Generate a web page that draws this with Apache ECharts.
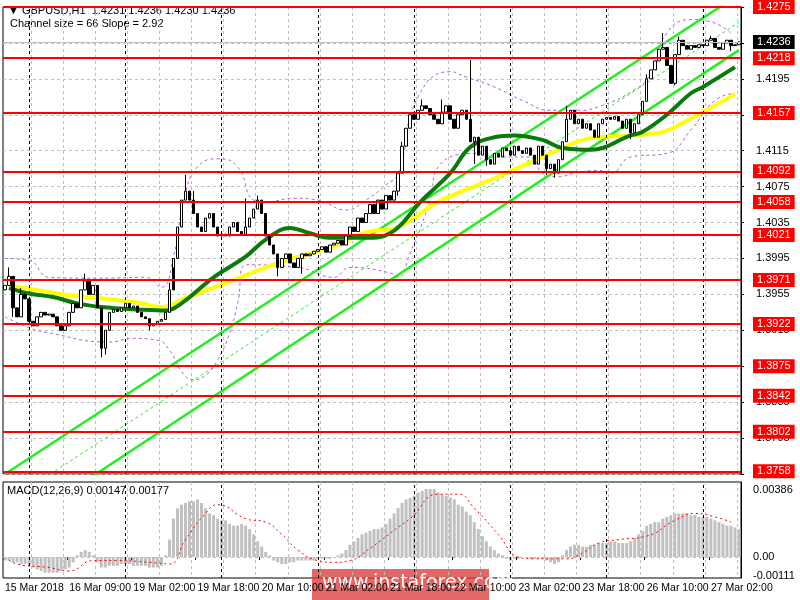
<!DOCTYPE html>
<html><head><meta charset="utf-8">
<script src="https://cdn.jsdelivr.net/npm/echarts@6/dist/echarts.min.js"></script>
<style>html,body{margin:0;padding:0;background:#fff}#c{width:800px;height:600px}</style>
</head><body><div id="c"></div>
<script>
// ---------- DATA ----------
const tickLabels = ['15 Mar 2018','16 Mar 09:00','19 Mar 02:00','19 Mar 18:00','20 Mar 10:00','21 Mar 02:00','21 Mar 18:00','22 Mar 10:00','23 Mar 02:00','23 Mar 18:00','26 Mar 10:00','27 Mar 02:00'];
const firstOpen = 1.3960;
const closes = [
 1.3965,1.3975,1.3940,1.3930,1.3955,1.3950,1.3925,1.3920,1.3930,1.3935,1.3932,1.3933,1.3930,1.3920,1.3915,
 1.3920,1.3935,1.3945,1.3940,1.3960,1.3970,1.3955,1.3965,1.3940,1.3895,1.3915,1.3935,
 1.3938,1.3936,1.3940,1.3945,1.3940,1.3942,1.3935,1.3930,1.3928,1.3920,1.3922,1.3925,1.3927,1.3935,
 1.3960,1.3995,1.4030,1.4060,1.4070,
 1.4060,1.4045,1.4030,1.4025,1.4040,1.4045,1.4030,1.4020,1.4022,1.4020,1.4030,1.4035,1.4025,1.4022,1.4030,1.4040,1.4050,1.4060,1.4045,1.4020,
 1.4010,1.4000,1.3985,1.3995,1.4000,1.3990,1.3985,1.3995,1.4000,1.3998,
 1.4000,1.4003,1.4005,1.4008,1.4002,1.4010,1.4012,1.4015,1.4010,1.4020,1.4030,1.4025,1.4040,1.4035,1.4045,
 1.4055,1.4045,1.4060,1.4050,1.4065,1.4060,1.4070,1.4090,1.4120,1.4140,
 1.4155,1.4150,1.4160,1.4165,1.4162,1.4155,1.4150,1.4145,1.4158,1.4165,1.4150,1.4140,1.4155,1.4160,1.4150,
 1.4125,1.4130,1.4110,1.4120,1.4105,
 1.4100,1.4112,1.4108,1.4118,1.4115,1.4110,1.4120,1.4115,1.4112,1.4118,1.4110,1.4100,1.4120,1.4110,1.4095,1.4100,1.4090,1.4105,
 1.4125,1.4150,1.4160,1.4145,1.4150,1.4140,1.4145,1.4138,
 1.4130,1.4145,1.4150,1.4152,1.4150,1.4153,1.4148,1.4140,1.4150,1.4135,1.4145,1.4155,
 1.4170,1.4195,1.4205,1.4215,1.4228,1.4230,1.4210,1.4190,1.4222,1.4238,
 1.4232,1.4228,1.4232,1.4230,1.4233,1.4232,1.4238,1.4240,1.4230,1.4228,1.4235,1.4238,1.4232,1.4233,1.4236];
// notable wick extremes [index, price]
const highs = [[1,1.3985],[4,1.3962],[20,1.3978],[41,1.3968],[45,1.4088],[47,1.4070],[60,1.4062],[63,1.4065],[99,1.4125],[104,1.4172],[109,1.4172],[116,1.4216],[140,1.4165],[160,1.4200],[164,1.4246],[168,1.4242],[176,1.4243]];
const lows  = [[2,1.3930],[24,1.3885],[25,1.3888],[36,1.3915],[42,1.3985],[68,1.3975],[74,1.3978],[98,1.4065],[117,1.4100],[120,1.4098],[135,1.4088],[137,1.4085],[156,1.4128],[167,1.4188],[181,1.4226]];
const macdHist = [
 -0.0002,-0.0002,-0.0003,-0.0003,-0.0004,-0.0004,-0.0005,-0.0006,-0.0007,-0.0008,
 -0.0009,-0.0009,-0.0009,-0.0009,-0.0008,-0.0007,-0.0006,-0.0003,
 0.0001,0.0003,0.0004,0.0003,0.0001,-0.0003,
 -0.0006,-0.0006,-0.0005,-0.0005,-0.0005,-0.0004,-0.0004,-0.0004,-0.0005,-0.0005,-0.0005,-0.0005,-0.0006,-0.0006,-0.0006,-0.0005,
 0.0001,0.0010,0.0022,0.0028,0.0030,0.0031,0.0032,0.0032,0.0033,0.0031,
 0.0028,0.0025,0.0024,0.0022,0.0021,0.0021,0.0019,0.0018,0.0018,0.0019,0.0018,0.0016,0.0013,
 0.0009,0.0006,0.0003,0.0001,-0.0002,-0.0003,-0.0004,-0.0004,-0.0003,-0.0003,-0.0002,-0.0002,
 -0.0002,-0.0002,-0.0002,-0.0001,-0.0001,-0.0001,-0.0001,0.0000,0.0001,0.0002,0.0004,0.0007,
 0.0009,0.0011,0.0013,0.0014,0.0015,0.0016,0.0016,0.0017,0.0019,0.0022,
 0.0025,0.0028,0.0031,0.0033,0.0034,0.0035,0.0037,0.0038,0.0039,0.0039,0.0039,
 0.0037,0.0036,0.0035,0.0034,0.0033,0.0030,0.0029,0.0026,0.0024,0.0020,
 0.0016,0.0012,0.0009,0.0006,0.0004,0.0002,0.0001,-0.0001,-0.0002,
 -0.0001,-0.0001,0.0000,0.0000,-0.0001,-0.0001,-0.0001,-0.0001,-0.0002,-0.0003,-0.0004,-0.0003,0.0001,0.0004,0.0006,0.0007,0.0007,
 0.0006,0.0006,0.0007,0.0007,0.0008,0.0008,0.0008,0.0009,0.0009,0.0008,0.0008,0.0008,0.0009,0.0011,0.0013,
 0.0015,0.0018,0.0019,0.0020,0.0020,0.0022,0.0023,0.0024,0.0025,0.0025,
 0.0025,0.0025,0.0024,0.0024,0.0023,0.0023,0.0023,0.0022,0.0021,0.0020,0.0019,0.0018,0.0018,0.0017,0.0016];
const macdSignal = [[0,0.0000],[3,-0.0004],[11,-0.0006],[16,-0.0008],[22,-0.0002],[28,-0.0002],[36,-0.0003],[41,-0.0004],[45,0.0010],[50,0.0025],[53,0.0030],[60,0.0022],[65,0.0020],[69,0.0013],[73,0.0004],[78,-0.0002],[82,-0.0003],[86,-0.0002],[91,0.0005],[98,0.0017],[101,0.0022],[108,0.0036],[113,0.0036],[117,0.0028],[123,0.0013],[128,0.0000],[132,-0.0001],[140,-0.0001],[143,0.0001],[148,0.0008],[153,0.0010],[160,0.0012],[167,0.0021],[172,0.0025],[177,0.0023],[181,0.0020]];
const maFast = [[1,1.3962],[6,1.3956],[12,1.3952],[18,1.3945],[24,1.3941],[34,1.3938],[40,1.3937],[44,1.3945],[52,1.3974],[60,1.3997],[65,1.4016],[71,1.4029],[76,1.4023],[81,1.4018],[90,1.4018],[96,1.4023],[104,1.4060],[111,1.4090],[116,1.4119],[122,1.4130],[127,1.4132],[134,1.4127],[139,1.4118],[146,1.4116],[156,1.4132],[159,1.4136],[165,1.4155],[171,1.4179],[174,1.4186],[182,1.4208]];
const maSlow = [[1,1.3965],[8,1.3960],[16,1.3954],[23,1.3951],[33,1.3946],[39,1.3941],[45,1.3951],[57,1.3971],[65,1.3985],[73,1.3997],[81,1.4007],[90,1.4024],[98,1.4030],[108,1.4058],[123,1.4086],[136,1.4112],[146,1.4129],[156,1.4132],[164,1.4136],[169,1.4146],[182,1.4178]];
const bandUpper = [[0,1.3995],[6,1.3993],[11,1.3974],[23,1.3973],[35,1.3974],[39,1.3963],[42,1.3997],[45,1.4068],[48,1.4097],[53,1.4106],[58,1.4097],[62,1.4060],[65,1.4058],[72,1.4062],[78,1.4060],[85,1.4049],[90,1.4060],[95,1.4077],[98,1.4090],[103,1.4175],[111,1.4203],[115,1.4197],[122,1.4186],[129,1.4171],[136,1.4160],[143,1.4160],[148,1.4164],[157,1.4183],[161,1.4201],[165,1.4246],[171,1.4261],[177,1.4257],[181,1.4246]];
const bandLower = [[0,1.3930],[6,1.3918],[10,1.3913],[26,1.3902],[32,1.3906],[38,1.3904],[41,1.3893],[44,1.3869],[47,1.3860],[50,1.3865],[53,1.3882],[56,1.3912],[58,1.3945],[60,1.3988],[73,1.3985],[82,1.3974],[86,1.3985],[96,1.3979],[98,1.3974],[101,1.4001],[106,1.4060],[108,1.4097],[118,1.4112],[121,1.4108],[131,1.4108],[134,1.4090],[138,1.4086],[142,1.4090],[148,1.4093],[151,1.4090],[156,1.4108],[165,1.4112],[171,1.4138],[177,1.4171],[182,1.4179]];
const channelUpper = [[0,1.3755],[183,1.4289]];
const channelLower = [[21,1.3750],[183,1.4227]];
const channelMid = [[10,1.3751],[183,1.4258]];
const levels = [1.4275,1.4218,1.4157,1.4092,1.4058,1.4021,1.3971,1.3922,1.3875,1.3842,1.3802,1.3758];
const lastPrice = 1.4236;
const macdLabels = [0.00386, 0.00, -0.00111];

// ---------- BUILD ----------
const N = closes.length;
const cats = closes.map((_, i) => String(i));
const hiMap = Object.fromEntries(highs), loMap = Object.fromEntries(lows);
const candles = closes.map((c, i) => {
  const o = i === 0 ? firstOpen : closes[i - 1];
  const h = hiMap[i] !== undefined ? hiMap[i] : Math.max(o, c);
  const l = loMap[i] !== undefined ? loMap[i] : Math.min(o, c);
  return [o, c, l, h];
});
function sparse(pairs){ const a = new Array(N).fill(null); pairs.forEach(([i,v]) => { if (i < N) a[i] = v; }); return a; }
const dayLines = cats.map((_, i) => i).filter(i => i % 24 === 6).map(i => ({xAxis: i}));
const font = 'Liberation Sans';

const chart = echarts.init(document.getElementById('c'), null, {renderer: 'canvas'});
chart.setOption({
  animation: false,
  backgroundColor: '#fff',
  textStyle: {fontFamily: font},
  grid: [
    {left: 3, right: 59, top: 7, height: 467, show: true, borderColor: '#000', borderWidth: 1},
    {left: 3, right: 59, top: 482, height: 96, show: true, borderColor: '#000', borderWidth: 1}
  ],
  xAxis: [
    {type: 'category', data: cats, gridIndex: 0, boundaryGap: true,
     axisLine: {show: false}, axisTick: {show: false}, axisLabel: {show: false},
     splitLine: {show: true, interval: (i) => i % 8 === 7, lineStyle: {color: '#c0c0c0', type: [3,3]}}},
    {type: 'category', data: cats, gridIndex: 1, boundaryGap: true,
     axisLine: {show: false}, axisTick: {show: true, interval: (i) => i % 16 === 0, length: 3, lineStyle: {color: '#000'}},
     axisLabel: {interval: (i) => i % 16 === 0, formatter: (v) => tickLabels[+v / 16] || '', align: 'left', fontSize: 10.5, color: '#000', margin: 5, fontFamily: font, showMinLabel: true, showMaxLabel: true, hideOverlap: false},
     splitLine: {show: true, interval: (i) => i % 8 === 7, lineStyle: {color: '#c0c0c0', type: [3,3]}}}
  ],
  yAxis: [
    {type: 'value', gridIndex: 0, position: 'right', min: 1.3755, max: 1.4275, interval: 0.004,
     axisLine: {show: true, lineStyle: {color: '#000'}}, axisTick: {show: true, length: 3, lineStyle: {color: '#000'}},
     axisLabel: {formatter: (v) => v.toFixed(4), fontSize: 11, color: '#000', margin: 15, fontFamily: font},
     splitLine: {show: true, lineStyle: {color: '#c0c0c0', type: [3,3]}}},
    {type: 'value', gridIndex: 1, position: 'right', min: -0.0012, max: 0.0043,
     axisLine: {show: true, lineStyle: {color: '#000'}}, axisTick: {show: false}, axisLabel: {show: false}, splitLine: {show: false}}
  ],
  graphic: [
    {type: 'text', left: 8, top: 5, style: {text: '▼ GBPUSD,H1  1.4231 1.4236 1.4230 1.4236', fontSize: 11, fill: '#000', fontFamily: font}},
    {type: 'text', left: 10, top: 18, style: {text: 'Channel size = 66 Slope = 2.92', fontSize: 11, fill: '#000', fontFamily: font}},
    {type: 'text', left: 7, top: 485, style: {text: 'MACD(12,26,9) 0.00147 0.00177', fontSize: 11, fill: '#000', fontFamily: font}},
    {type: 'group', left: 312, top: 569, z: 100, children: [
      {type: 'rect', shape: {x: 0, y: 0, width: 177, height: 31}, style: {fill: 'rgba(220,60,60,0.78)'}},
      {type: 'text', left: 10, top: 5, style: {text: 'www.instaforex.com', fontSize: 19, fill: '#fff', fontFamily: 'DejaVu Sans'}}
    ]}
  ],
  series: [
    {type: 'line', name: 'bandU', data: sparse(bandUpper), connectNulls: true, smooth: 0.5, symbol: 'none', xAxisIndex: 0, yAxisIndex: 0,
     lineStyle: {color: '#b060e0', width: 1, type: [3,3]}, z: 2},
    {type: 'line', name: 'bandL', data: sparse(bandLower), connectNulls: true, smooth: 0.5, symbol: 'none', xAxisIndex: 0, yAxisIndex: 0,
     lineStyle: {color: '#b060e0', width: 1, type: [3,3]}, z: 2},
    {type: 'line', name: 'chU', data: sparse(channelUpper), connectNulls: true, symbol: 'none', lineStyle: {color: '#22ee22', width: 2.5}, z: 3, clip: true},
    {type: 'line', name: 'chL', data: sparse(channelLower), connectNulls: true, symbol: 'none', lineStyle: {color: '#22ee22', width: 2.5}, z: 3, clip: true},
    {type: 'line', name: 'chM', data: sparse(channelMid), connectNulls: true, symbol: 'none', lineStyle: {color: '#22ee22', width: 1, type: [3,3]}, z: 3, clip: true},
    {type: 'line', name: 'maSlow', data: sparse(maSlow), connectNulls: true, smooth: 0.4, symbol: 'none', lineStyle: {color: '#ffff00', width: 4}, z: 4},
    {type: 'line', name: 'maFast', data: sparse(maFast), connectNulls: true, smooth: 0.4, symbol: 'none', lineStyle: {color: '#0a7a0a', width: 4}, z: 5},
    {type: 'candlestick', name: 'price', data: candles, xAxisIndex: 0, yAxisIndex: 0, barWidth: 3, z: 6,
     itemStyle: {color: '#ffffff', color0: '#000000', borderColor: '#000000', borderColor0: '#000000', borderWidth: 1},
     markLine: {silent: true, symbol: 'none', animation: false, z: 10, precision: 4,
       data: levels.map(v => ({yAxis: v})).concat([
         {yAxis: lastPrice, lineStyle: {color: '#c0c0c0', width: 1, type: 'solid'},
          label: {backgroundColor: '#000', color: '#fff'}}
       ]),
       lineStyle: {color: '#ff0000', width: 2, type: 'solid'},
       label: {position: 'end', formatter: (p) => (+p.value).toFixed(4), backgroundColor: '#ff0000', color: '#fff',
               fontSize: 11, padding: [2, 4, 1, 4], distance: 12, fontFamily: font}}},
    {type: 'line', name: 'days', data: [], xAxisIndex: 0, yAxisIndex: 0,
     markLine: {silent: true, symbol: 'none', label: {show: false}, lineStyle: {color: '#000', width: 1, type: [3,3]}, data: dayLines}},
    {type: 'bar', name: 'hist', data: macdHist, xAxisIndex: 1, yAxisIndex: 1, barWidth: 3, itemStyle: {color: '#c0c0c0'},
     markLine: {silent: true, symbol: 'none', precision: 5,
       label: {position: 'end', formatter: (p) => (+p.value) === 0 ? '0.00' : (+p.value).toFixed(5), color: '#000', fontSize: 11, distance: 12, fontFamily: font},
       data: macdLabels.map(v => ({yAxis: v, lineStyle: v === 0 ? {color: '#c0c0c0', width: 1, type: [3,3]} : {color: 'rgba(0,0,0,0)', width: 1}}))}},
    {type: 'line', name: 'signal', data: sparse(macdSignal), connectNulls: true, smooth: 0.5, symbol: 'none', xAxisIndex: 1, yAxisIndex: 1,
     lineStyle: {color: '#ff0000', width: 1, type: [2,3]}},
    {type: 'line', name: 'days2', data: [], xAxisIndex: 1, yAxisIndex: 1,
     markLine: {silent: true, symbol: 'none', label: {show: false}, lineStyle: {color: '#000', width: 1, type: [3,3]}, data: dayLines}}
  ]
});
</script></body></html>
